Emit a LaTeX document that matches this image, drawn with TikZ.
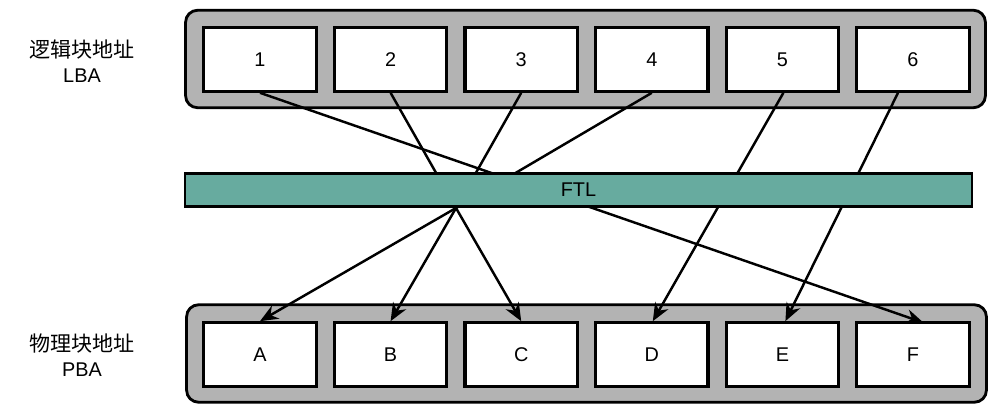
\documentclass[tikz,border=0pt]{standalone}
\usepackage{fontspec}
\setmainfont{Liberation Sans}
\newfontfamily\cjk{Noto Sans CJK SC}[Scale=1.06]
\usetikzlibrary{arrows.meta,positioning}
\definecolor{ftlteal}{RGB}{103,171,159}
\definecolor{slotgray}{RGB}{179,179,179}

\begin{document}
\begin{tikzpicture}[x=0.02cm,y=-0.02cm,>={Stealth[length=3.6mm,width=3mm]},
  font=\fontsize{11.3}{14}\selectfont,
  tray/.style={draw,line width=1.6pt,fill=slotgray,rounded corners=2.4mm,
    minimum width=16cm,minimum height=1.95cm},
  blk/.style={draw,line width=1.8pt,fill=white,minimum width=2.25cm,minimum height=1.27cm},
  link/.style={line width=1.4pt}]
  \useasboundingbox (0,0) rectangle (1000,411);
  % LBA / PBA trays
  \node[tray] (toptray) at (585.5,59) {};
  \node[tray] (bottray) at (586.5,353.5) {};
  \node[align=center] (lbalab) at (82,61) {{\cjk 逻辑块地址}\\LBA};
  \node[align=center] (pbalab) at (82,355) {{\cjk 物理块地址}\\PBA};
  % blocks
  \foreach \lab [count=\i] in {1,...,6}
    \node[blk] (l\lab) at ({260+130.6*(\i-1)},59.5) {\lab};
  \foreach \lab [count=\i] in {A,B,C,D,E,F}
    \node[blk] (p\lab) at ({260+130.6*(\i-1)},354.5) {\lab};
  % mapping (drawn under the FTL bar)
  \coordinate (hub) at (456,208);
  \draw[link,->] (l1.south) -- ([xshift=2.1mm,yshift=-0.3mm]pF.north);
  \draw[link] (l2.south) -- (hub);
  \draw[link] (l3.south) -- (hub);
  \draw[link] (l4.south) -- (hub);
  \draw[link,->] (hub) -- (pA.north);
  \draw[link,->] (hub) -- (pB.north);
  \draw[link,->] (hub) -- (pC.north);
  \draw[link,->] ([xshift=0.2mm]l5.south) -- ([xshift=0.2mm]pD.north);
  \draw[link,->] ([xshift=-3mm]l6.south) -- ([xshift=0.6mm]pE.north);
  % FTL bar
  \node[draw,line width=1.3pt,fill=ftlteal,minimum width=15.74cm,minimum height=0.66cm]
    (ftl) at (578.5,190) {FTL};
\end{tikzpicture}
\end{document}
